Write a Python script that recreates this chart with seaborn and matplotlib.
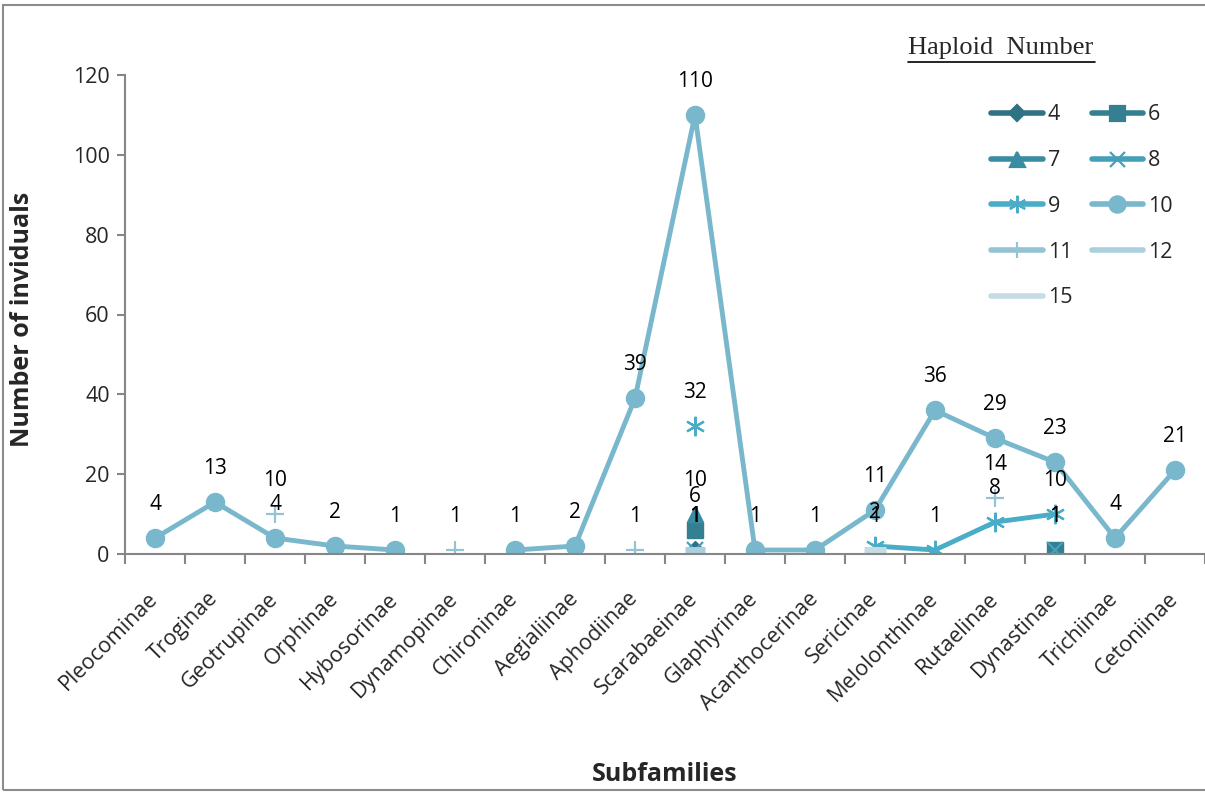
import numpy as np
import pandas as pd
import matplotlib
matplotlib.use('Agg')
import matplotlib.pyplot as plt
import seaborn as sns
from matplotlib.lines import Line2D
from matplotlib.patches import Rectangle
from matplotlib.transforms import ScaledTranslation

subfamilies = ['Pleocominae', 'Troginae', 'Geotrupinae', 'Orphinae', 'Hybosorinae',
               'Dynamopinae', 'Chironinae', 'Aegialiinae', 'Aphodiinae', 'Scarabaeinae',
               'Glaphyrinae', 'Acanthocerinae', 'Sericinae', 'Melolonthinae', 'Rutaelinae',
               'Dynastinae', 'Trichiinae', 'Cetoniinae']
nan = np.nan
# individuals per subfamily for each haploid number
n4 = [nan]*9 + [1] + [nan]*8
n6 = [nan]*9 + [6] + [nan]*5 + [1, nan, nan]
n7 = [nan]*9 + [10] + [nan]*8
n8 = [nan]*9 + [1] + [nan]*5 + [1, nan, nan]
n9 = [nan]*9 + [32] + [nan, nan, 2, 1, 8, 10, nan, nan]
n10 = [4, 13, 4, 2, 1, nan, 1, 2, 39, 110, 1, 1, 11, 36, 29, 23, 4, 21]
n11 = [nan, nan, 10, nan, nan, 1, nan, nan, 1, nan, nan, nan, nan, nan, 14, nan, nan, nan]
n12 = [nan]*9 + [1] + [nan]*8
n15 = [nan]*12 + [1] + [nan]*5

haploid = ['4', '6', '7', '8', '9', '10', '11', '12', '15']
values = [n4, n6, n7, n8, n9, n10, n11, n12, n15]
colors = ['#2f7284', '#357f92', '#3a8ca2', '#44a0b9', '#4aadc7', '#78b7cc', '#94c3d3', '#abcfdc', '#c4dce4']
markers = ['D', 's', '^', 'x', (6, 2, 0), 'o', '+', '_', '_']
msizes = [9, 12, 12, 12, 14, 13, 13, 14, 16]

sns.set_style('white')
plt.rcParams['font.family'] = ['Open Sans', 'DejaVu Sans']

fig = plt.figure(figsize=(12.05, 7.92), dpi=100)
ax = fig.add_axes([125/1205, 1-554/792, 1080/1205, 479/792])

x = np.arange(len(subfamilies))
for lab, vals, c, m, ms in zip(haploid, values, colors, markers, msizes):
    df = pd.DataFrame({'x': x, 'y': vals})
    # split into contiguous segments so gaps break the line
    df['seg'] = df['y'].isna().cumsum()
    df = df.dropna()
    for _, part in df.groupby('seg'):
        sns.lineplot(data=part, x='x', y='y', ax=ax, color=c, lw=3.5,
                     marker=m, markersize=ms, markeredgecolor=c,
                     markeredgewidth=1.6 if m in ('x', '+', (6, 2, 0)) else (5 if m == '_' else 1),
                     legend=False, estimator=None, sort=False)
    for xi, yi in zip(df['x'], df['y']):
        ax.annotate(f'{int(yi)}', (xi, yi), xytext=(0, 24), textcoords='offset points',
                    ha='center', va='center', fontsize=15, color='black')

ax.set_xlim(-0.5, 17.5)
ax.set_ylim(0, 120)
ax.set_yticks(range(0, 121, 20))
ax.set_xticks(x)
ax.set_xticklabels(subfamilies, rotation=45, ha='right', va='center',
                   rotation_mode='anchor', fontsize=15.5)
shift = ScaledTranslation(13/100, 0, fig.dpi_scale_trans)
for t in ax.get_xticklabels():
    t.set_transform(t.get_transform() + shift)
ax.set_xticks(np.arange(-0.5, 17.6, 1), minor=True)
ax.tick_params(axis='x', which='major', length=0, pad=30)
ax.tick_params(axis='x', which='minor', length=7, width=1.5, color='#868686', direction='out')
ax.tick_params(axis='y', length=6, width=1.5, color='#868686', direction='out', labelsize=15.5, pad=5)
ax.yaxis.set_tick_params(left=True)
ax.xaxis.set_tick_params(bottom=True, which='minor')
for s in ['top', 'right']:
    ax.spines[s].set_visible(False)
for s in ['left', 'bottom']:
    ax.spines[s].set_color('#868686')
    ax.spines[s].set_linewidth(1.5)

ax.set_xlabel('Subfamilies', fontsize=18, fontweight='bold')
ax.set_ylabel('Number of inviduals', fontsize=18, fontweight='bold')
ax.xaxis.set_label_coords(0.50, -0.434)
ax.yaxis.set_label_coords(-0.083, 0.49)

handles = []
for lab, c, m, ms in zip(haploid, colors, markers, msizes):
    if m == '_':
        handles.append(Line2D([], [], color=c, lw=4, label=lab))
    else:
        handles.append(Line2D([], [], color=c, lw=4, marker=m, markersize=ms*0.9,
                              markeredgecolor=c, markeredgewidth=1.6, label=lab))
# row-wise legend order (4,6 / 7,8 / 9,10 / 11,12 / 15)
order = [0, 2, 4, 6, 8, 1, 3, 5, 7]
leg = ax.legend(handles=[handles[i] for i in order], ncol=2, loc='upper left', frameon=False,
                bbox_to_anchor=(972/1205, 1-85/792), bbox_transform=fig.transFigure,
                fontsize=15.5, handlelength=2.4, handletextpad=0.22, labelspacing=1.15,
                columnspacing=0.9)

fig.text(1001/1205, 1-48/792, 'Haploid  Number', family='Liberation Serif', fontsize=19,
         ha='center', va='center')
fig.add_artist(Line2D([908/1205, 1095/1205], [1-62/792, 1-62/792], color='black', lw=1.2))
fig.add_artist(Rectangle((3/1205, 2/792), 1.2, 785/792, transform=fig.transFigure,
                         fill=False, edgecolor='#8c8c8c', lw=1.5))

fig.savefig('out.png', dpi=100)
